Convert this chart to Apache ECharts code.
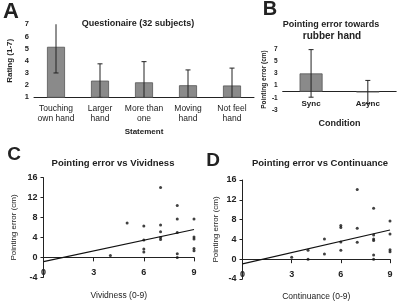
<!DOCTYPE html>
<html>
<head>
<meta charset="utf-8">
<script src="https://cdn.jsdelivr.net/npm/echarts@6/dist/echarts.min.js"></script>
<style>
  html, body { margin: 0; padding: 0; background: #fff; }
  #chart { width: 400px; height: 304px; }
</style>
</head>
<body>
<div id="chart"></div>
<script>
// Panel A - questionnaire ratings
const statements = ["Touching\nown hand", "Larger\nhand", "More than\none", "Moving\nhand", "Not feel\nhand"];
const ratingMean = [5.15, 2.37, 2.23, 1.99, 1.97];
const ratingErr = [2.15, 1.38, 1.7, 1.26, 1.43];

// Panel B - pointing error by condition
const conditions = ["Sync", "Async"];
const pointingMean = [3.0, -0.05];
const pointingErr = [3.9, 1.9];
const pointingTicks = [-3, -1, 1, 3, 5, 7];

// Panel C - pointing error vs vividness
const vividPoints = [
  [4, 0.4], [5, 6.9], [6, 6.3], [6, 3.5], [6, 1.7], [6, 1.07],
  [7, 14.05], [7, 6.5], [7, 5.15], [7, 4.0], [7, 3.6],
  [8, 10.4], [8, 7.7], [8, 5.0], [8, 0.73], [8, 0],
  [9, 7.7], [9, 4.08], [9, 3.7], [9, 1.8], [9, 1.33]
];
const vividFit = [[0, -0.85], [9, 5.6]];

// Panel D - pointing error vs continuance
const contPoints = [
  [3, 0.4], [4, 1.8], [4, 0], [5, 4.1], [5, 1.07],
  [6, 6.8], [6, 6.4], [6, 3.5], [6, 1.8],
  [7, 14.1], [7, 6.25], [7, 3.4],
  [8, 10.3], [8, 4.9], [8, 4.1], [8, 3.8], [8, 0.87], [8, 0],
  [9, 7.7], [9, 5.1], [9, 1.9], [9, 1.5]
];
const contFit = [[0, -0.95], [9, 5.9]];

const font = "Liberation Sans";
const ink = "#222";

const axisLine = {lineStyle: {color: ink, width: 1}};
const tickStyle = {length: 3, lineStyle: {color: ink, width: 1}};
const labelStyle = (size) => ({color: ink, fontFamily: font, fontSize: size, fontWeight: "bold"});

// error bar drawn through the axis scales
const errorBars = (idx, means, errs) => ({
  type: "custom",
  xAxisIndex: idx,
  yAxisIndex: idx,
  clip: true,
  z: 5,
  data: means.map((m, i) => [i, m - errs[i], m + errs[i]]),
  encode: {x: 0, y: [1, 2]},
  renderItem: (params, api) => {
    const lo = api.coord([api.value(0), api.value(1)]);
    const hi = api.coord([api.value(0), api.value(2)]);
    const w = 2.5;
    const style = {stroke: ink, lineWidth: 1};
    return {
      type: "group",
      children: [
        {type: "line", shape: {x1: lo[0], y1: lo[1], x2: hi[0], y2: hi[1]}, style},
        {type: "line", shape: {x1: hi[0] - w, y1: hi[1], x2: hi[0] + w, y2: hi[1]}, style},
        {type: "line", shape: {x1: lo[0] - w, y1: lo[1], x2: lo[0] + w, y2: lo[1]}, style},
      ],
    };
  },
});

const scatterX = (idx, name, gap) => ({
  type: "value", gridIndex: idx, min: 0, max: 9, interval: 3,
  name, nameLocation: "middle", nameGap: gap,
  nameTextStyle: {color: ink, fontFamily: font, fontSize: 8.5},
  axisLine, axisTick: {length: 4, lineStyle: {color: ink}},
  axisLabel: {...labelStyle(9), margin: -9},
  splitLine: {show: false},
});

const scatterY = (idx, gap) => ({
  type: "value", gridIndex: idx, min: -4, max: 16, interval: 4,
  name: "Pointing error (cm)", nameLocation: "middle", nameGap: gap, nameRotate: 90,
  nameTextStyle: {color: ink, fontFamily: font, fontSize: 8},
  axisLine, axisTick: tickStyle,
  axisLabel: {...labelStyle(9), margin: 6},
  splitLine: {show: false},
});

const titleAt = (text, x, y, size, weight) => ({
  text, left: x, top: y, textAlign: "center", padding: 0,
  textStyle: {fontFamily: font, fontSize: size, fontWeight: weight || "bold", color: ink},
});

const chart = echarts.init(document.getElementById("chart"), null, {renderer: "canvas"});

chart.setOption({
  animation: false,
  backgroundColor: "#fff",
  textStyle: {fontFamily: font},
  title: [
    titleAt("A", 11, 1, 22),
    titleAt("Questionaire (32 subjects)", 138, 19, 9),
    titleAt("B", 270, -1, 20),
    titleAt("Pointing error towards", 331, 20, 9),
    titleAt("rubber hand", 332, 31, 10),
    titleAt("C", 14, 145, 19),
    titleAt("Pointing error vs Vividness", 113, 158, 9.5),
    titleAt("D", 213, 151, 19),
    titleAt("Pointing error vs Continuance", 320, 158, 9.5),
  ],
  grid: [
    {left: 34, top: 24.3, width: 220, height: 73, outerBoundsMode: "none"},
    {left: 282.7, top: 49, width: 113.5, height: 61, outerBoundsMode: "none"},
    {left: 43.5, top: 177.7, width: 150.5, height: 99.6, outerBoundsMode: "none"},
    {left: 242.5, top: 180, width: 147.5, height: 99, outerBoundsMode: "none"},
  ],
  xAxis: [
    {
      type: "category", gridIndex: 0, data: statements,
      name: "Statement", nameLocation: "middle", nameGap: 30,
      nameTextStyle: {color: ink, fontFamily: font, fontSize: 8, fontWeight: "bold"},
      axisLine, axisTick: tickStyle,
      axisLabel: {color: ink, fontFamily: font, fontSize: 8.5, lineHeight: 10, margin: 6, interval: 0},
    },
    {
      type: "category", gridIndex: 1, data: conditions,
      name: "Condition", nameLocation: "middle", nameGap: 9,
      nameTextStyle: {color: ink, fontFamily: font, fontSize: 9, fontWeight: "bold"},
      axisLine, axisTick: tickStyle,
      axisLabel: {...labelStyle(8), margin: -10},
    },
    scatterX(2, "Vividness (0-9)", 14),
    scatterX(3, "Continuance (0-9)", 13),
  ],
  yAxis: [
    {
      type: "value", gridIndex: 0, min: 1, max: 7, interval: 1,
      name: "Rating (1-7)", nameLocation: "middle", nameGap: 20, nameRotate: 90,
      nameTextStyle: {color: ink, fontFamily: font, fontSize: 8, fontWeight: "bold"},
      axisLine, axisTick: tickStyle,
      axisLabel: {...labelStyle(7.5), margin: 5},
      splitLine: {show: false},
    },
    {
      type: "value", gridIndex: 1, min: -3, max: 7,
      name: "Pointing error (cm)", nameLocation: "middle", nameGap: 15, nameRotate: 90,
      nameTextStyle: {color: ink, fontFamily: font, fontSize: 6.5, fontWeight: "bold"},
      axisLine,
      axisTick: {...tickStyle, customValues: pointingTicks},
      axisLabel: {...labelStyle(6.5), margin: 5, customValues: pointingTicks},
      splitLine: {show: false},
    },
    scatterY(2, 26),
    scatterY(3, 23),
  ],
  series: [
    {
      type: "bar", xAxisIndex: 0, yAxisIndex: 0, data: ratingMean, barWidth: 18,
      itemStyle: {color: "#8a8a8a", borderColor: "#555", borderWidth: 0.8},
    },
    errorBars(0, ratingMean, ratingErr),
    {
      type: "bar", xAxisIndex: 1, yAxisIndex: 1, data: pointingMean, barWidth: 23,
      itemStyle: {color: "#8a8a8a", borderColor: "#555", borderWidth: 0.8},
    },
    errorBars(1, pointingMean, pointingErr),
    {
      type: "scatter", xAxisIndex: 2, yAxisIndex: 2, data: vividPoints,
      symbolSize: 3, itemStyle: {color: "#111"},
    },
    {
      type: "line", xAxisIndex: 2, yAxisIndex: 2, data: vividFit,
      showSymbol: false, lineStyle: {color: "#111", width: 1.2},
    },
    {
      type: "scatter", xAxisIndex: 3, yAxisIndex: 3, data: contPoints,
      symbolSize: 3, itemStyle: {color: "#111"},
    },
    {
      type: "line", xAxisIndex: 3, yAxisIndex: 3, data: contFit,
      showSymbol: false, lineStyle: {color: "#111", width: 1.2},
    },
  ],
});
</script>
</body>
</html>
